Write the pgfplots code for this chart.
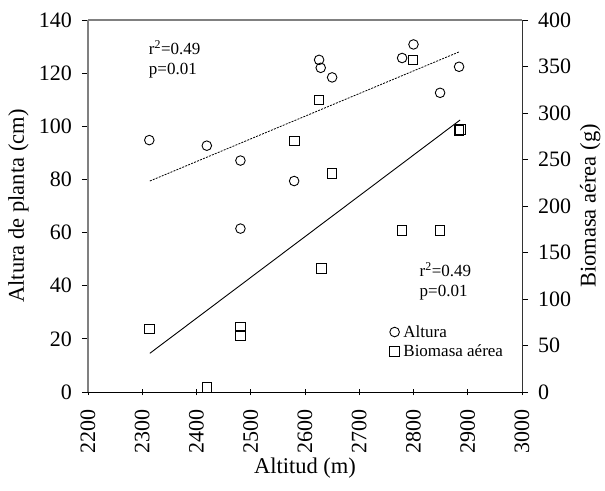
\documentclass[border=0pt]{standalone}
\usepackage{pgfplots}
\pgfplotsset{compat=1.18}
\usepackage{fontspec}
\setmainfont{Liberation Serif}
\begin{document}
\begin{tikzpicture}
\useasboundingbox (-88pt,-98pt) rectangle (517pt,392pt);
\pgfplotsset{
  every axis/.append style={
    scale only axis, width=434pt, height=372pt,
    xmin=2200, xmax=3000,
    /pgf/number format/assume math mode=true,
    /pgf/number format/set thousands separator={},
    tick label style={font=\fontsize{22}{24}\selectfont},
    label style={font=\fontsize{22.5}{24}\selectfont},
    tick style={black, line width=0.8pt},
    major tick length=6pt,
  },
}
\begin{axis}[
  axis x line*=bottom, axis y line*=left,
  ymin=0, ymax=140, ytick={0,20,...,140},
  xtick={2200,2300,...,3000},
  xticklabel style={rotate=90, anchor=east, inner sep=0pt, xshift=-14pt},
  yticklabel style={anchor=east, inner sep=0pt, xshift=-10pt},
  x axis line style={black, line width=0.8pt},
  y axis line style={gray, line width=1.2pt},
  xtick align=center, ytick align=outside,
  xlabel={Altitud (m)}, ylabel={Altura de planta (cm)},
  xlabel style={at={(axis description cs:0.5,-0.205)}, anchor=center},
  ylabel style={at={(axis description cs:-0.160,0.5)}, anchor=center},
]
\addplot[only marks, mark=o, mark size=4.8pt, mark options={line width=0.9pt}] coordinates {
(2313,94.8) (2419,92.7) (2481,87.1) (2481,61.5) (2580,79.4) (2626,125.0)
(2629,122.0) (2650,118.4) (2779,125.7) (2800,130.8) (2849,112.6) (2884,122.4)
};
\addplot[black, line width=0.8pt, dash pattern=on 2pt off 1.2pt] coordinates {(2314,79.4) (2884,128.0)};
\node[anchor=north west, align=left, inner sep=0pt, font=\fontsize{17}{20}\selectfont] at (axis cs:2312,132.5) {r\textsuperscript{2}=0.49\\p=0.01};
\node[anchor=north west, align=left, inner sep=0pt, font=\fontsize{17}{20}\selectfont] at (axis cs:2811,48.8) {r\textsuperscript{2}=0.49\\p=0.01};
\end{axis}
\begin{axis}[
  axis x line*=top, axis y line*=right,
  ymin=0, ymax=400, ytick={0,50,...,400},
  xtick=\empty,
  x axis line style={gray, line width=1.2pt},
  y axis line style={black!80, line width=0.9pt},
  yticklabel style={anchor=west, inner sep=0pt, xshift=10pt},
  ytick align=outside,
  ylabel={Biomasa aérea (g)},
  ylabel style={at={(axis description cs:1.157,0.5)}, anchor=center},
  legend style={draw=none, fill=none, at={(0.695,0.185)}, anchor=north west,
    font=\fontsize{17}{20}\selectfont, row sep=2pt, inner sep=0pt},
  legend cell align=left,
]
\addlegendimage{only marks, mark=o, mark size=4.8pt, mark options={line width=0.9pt}}
\addlegendentry{\hspace{2pt}Altura}
\addplot[only marks, mark=square, mark size=4.8pt, mark options={line width=0.9pt}] coordinates {
(2799,357) (2626,314) (2580,270) (2650,235) (2884,281) (2887,282) (2779,174) (2849,174)
(2630,133) (2313,68) (2481,70) (2481,60.5) (2419,4.6)
};
\addlegendentry{\hspace{2pt}Biomasa aérea}
\addplot[black, line width=0.9pt, forget plot] coordinates {(2314,41.6) (2886,292.5)};
\end{axis}
\end{tikzpicture}
\end{document}
